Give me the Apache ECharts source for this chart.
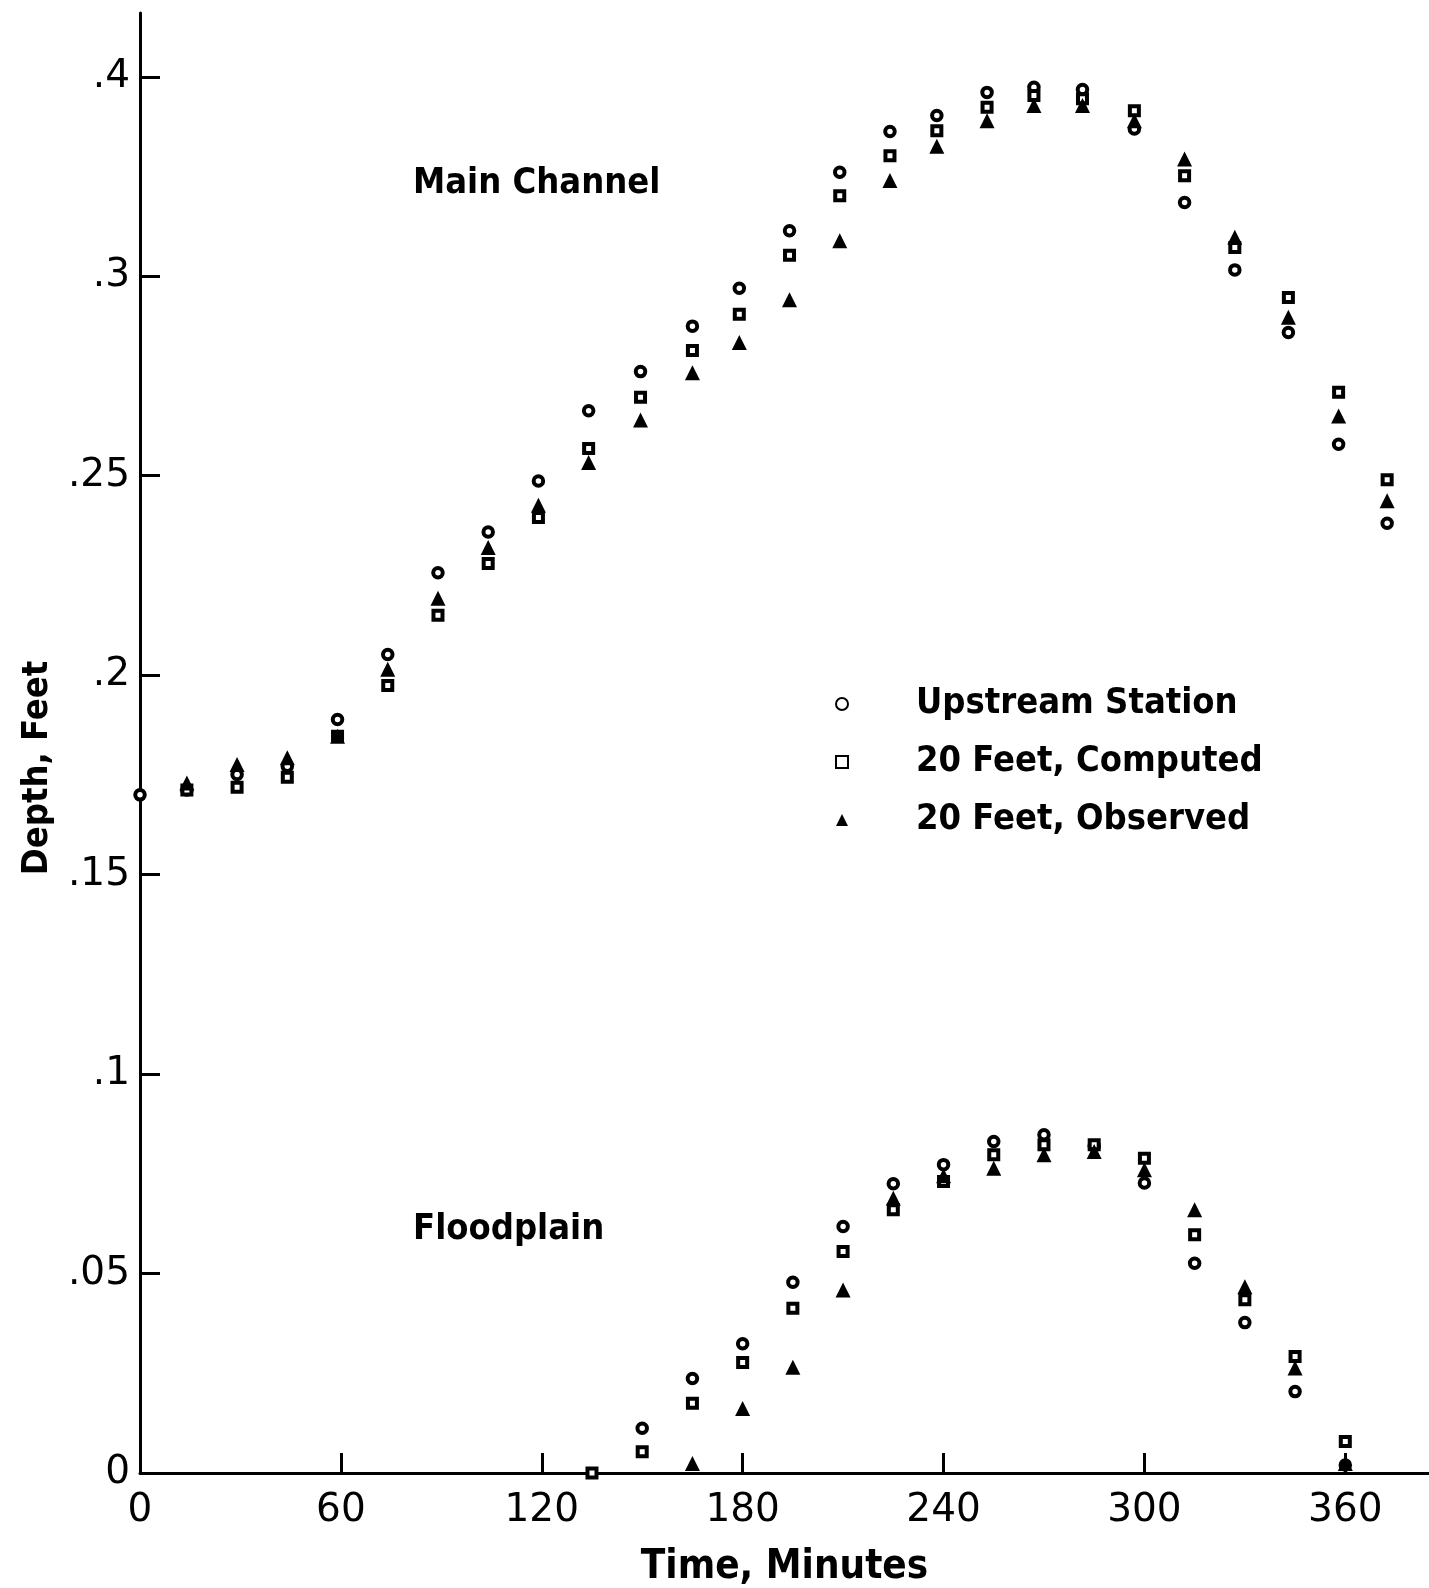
<!DOCTYPE html>
<html>
<head>
<meta charset="utf-8">
<title>Depth vs Time</title>
<script src="https://cdn.jsdelivr.net/npm/echarts@6/dist/echarts.min.js"></script>
<style>
    html, body { margin: 0; padding: 0; background: #fff; }
    #chart { width: 1429px; height: 1588px; }
</style>
</head>
<body>
<div id="chart"></div>
<script>
// main channel readings (minutes, feet)
let mainTimes = [0, 14, 29, 44, 59, 74, 89, 104, 119, 134, 149.5, 165, 179, 194, 209, 224, 238, 253, 267, 281.5, 297, 312, 327, 343, 358, 372.5];
let mainUpstream = [0.170, 0.1712, 0.1751, 0.1772, 0.1889, 0.2052, 0.2257, 0.2359, 0.2487, 0.2663, 0.2761, 0.2875, 0.2970, 0.3114, 0.3261, 0.3363, 0.3403, 0.3461, 0.3474, 0.3468, 0.3369, 0.3185, 0.3016, 0.2859, 0.2579, 0.2381];
let mainComputed = [null, 0.1712, 0.1719, 0.1744, 0.1847, 0.1974, 0.2150, 0.2280, 0.2395, 0.2568, 0.2697, 0.2814, 0.2905, 0.3053, 0.3202, 0.3302, 0.3365, 0.3424, 0.3453, 0.3445, 0.3415, 0.3252, 0.3072, 0.2947, 0.2709, 0.2490];
let mainObserved = [null, 0.1730, 0.1776, 0.1793, 0.1847, 0.2015, 0.2193, 0.2320, 0.2426, 0.2533, 0.2640, 0.2758, 0.2834, 0.2941, 0.3089, 0.3240, 0.3326, 0.3390, 0.3428, 0.3428, 0.3390, 0.3294, 0.3098, 0.2897, 0.2650, 0.2437];

// floodplain readings
let floodTimes = [135, 150, 165, 180, 195, 210, 225, 240, 255, 270, 285, 300, 315, 330, 345, 360];
let floodUpstream = [null, 0.0112, 0.0237, 0.0324, 0.0478, 0.0618, 0.0725, 0.0773, 0.0831, 0.0848, 0.0820, 0.0727, 0.0526, 0.0377, 0.0204, 0.0020];
let floodComputed = [0.0, 0.0053, 0.0175, 0.0277, 0.0413, 0.0555, 0.0660, 0.0731, 0.0798, 0.0823, 0.0823, 0.0789, 0.0597, 0.0434, 0.0292, 0.0079];
let floodObserved = [null, null, 0.0024, 0.0162, 0.0265, 0.0459, 0.0689, 0.0745, 0.0764, 0.0798, 0.0806, 0.0760, 0.0660, 0.0467, 0.0263, 0.0024];

// axis ticks
let xTickValues = [0, 60, 120, 180, 240, 300, 360];
let yTickValues = [0, 0.05, 0.1, 0.15, 0.2, 0.25, 0.3, 0.35];
let yTickLabels = ['0', '.05', '.1', '.15', '.2', '.25', '.3', '.4'];

let seriesNames = ['Upstream Station', '20 Feet, Computed', '20 Feet, Observed'];

const FONT = "'DejaVu Sans Condensed', 'Liberation Sans Narrow', 'DejaVu Sans', sans-serif";
const TICKFONT = "'DejaVu Sans', sans-serif";

let toPairs = (times, vals) => {
    let out = [];
    for (let i = 0; i < times.length; i++) {
        if (vals[i] != null) out.push([times[i], vals[i]]);
    }
    return out;
};

let circleStyle = { color: '#fff', borderColor: '#000', borderWidth: 4, opacity: 1 };
let squareStyle = { color: '#fff', borderColor: '#000', borderWidth: 4, opacity: 1 };
let triStyle = { color: '#000', opacity: 1 };

let makeSeries = (name, data, symbol, size, style) => ({
    name: name,
    type: 'scatter',
    data: data,
    symbol: symbol,
    symbolSize: size,
    itemStyle: style,
    emphasis: { disabled: true }
});

let myChart = echarts.init(document.getElementById('chart'));
let option = {
    animation: false,
    backgroundColor: '#fff',
    grid: { left: 140, right: 0, top: 13, bottom: 115, outerBoundsMode: 'none' },
    xAxis: {
        type: 'value',
        min: 0,
        max: 385,
        name: 'Time, Minutes',
        nameLocation: 'middle',
        nameGap: 75,
        nameTextStyle: { fontFamily: FONT, fontSize: 40, color: '#000', fontWeight: 'bold' },
        axisLine: { show: true, lineStyle: { color: '#000', width: 3 } },
        axisTick: { show: true, inside: true, length: 20, lineStyle: { color: '#000', width: 3 }, customValues: xTickValues },
        axisLabel: { customValues: xTickValues, fontFamily: TICKFONT, fontSize: 39, color: '#000', margin: 18 },
        splitLine: { show: false }
    },
    yAxis: {
        type: 'value',
        min: 0,
        max: 0.366,
        name: 'Depth, Feet',
        nameLocation: 'middle',
        nameRotate: 90,
        nameGap: 84,
        nameTextStyle: { fontFamily: FONT, fontSize: 36, color: '#000', fontWeight: 'bold', padding: [0, 50, 0, 0] },
        axisLine: { show: true, lineStyle: { color: '#000', width: 3 } },
        axisTick: { show: true, inside: true, length: 20, lineStyle: { color: '#000', width: 3 }, customValues: yTickValues },
        axisLabel: {
            customValues: yTickValues,
            fontFamily: TICKFONT, fontSize: 39, color: '#000', margin: 10,
            formatter: function (v) {
                return yTickLabels[Math.round(v / 0.05)];
            }
        },
        splitLine: { show: false }
    },
    legend: {
        data: seriesNames,
        orient: 'vertical',
        left: 830,
        top: 679,
        itemWidth: 12,
        itemHeight: 12,
        itemGap: 18,
        selectedMode: false,
        textStyle: { fontFamily: FONT, fontSize: 36, color: '#000', fontWeight: 'bold', lineHeight: 40, padding: [0, 0, 0, 63] }
    },
    graphic: [
        { type: 'text', left: 413, top: 166, style: { text: 'Main Channel', font: 'bold 36px ' + FONT, fill: '#000' } },
        { type: 'text', left: 413, top: 1212, style: { text: 'Floodplain', font: 'bold 36px ' + FONT, fill: '#000' } }
    ],
    series: [
        makeSeries(seriesNames[0], toPairs(mainTimes, mainUpstream), 'circle', 9.5, circleStyle),
        makeSeries(seriesNames[1], toPairs(mainTimes, mainComputed), 'rect', 9, squareStyle),
        makeSeries(seriesNames[2], toPairs(mainTimes, mainObserved), 'triangle', 15, triStyle),
        makeSeries(seriesNames[0], toPairs(floodTimes, floodUpstream), 'circle', 9.5, circleStyle),
        makeSeries(seriesNames[1], toPairs(floodTimes, floodComputed), 'rect', 9, squareStyle),
        makeSeries(seriesNames[2], toPairs(floodTimes, floodObserved), 'triangle', 15, triStyle)
    ]
};
myChart.setOption(option);
</script>
</body>
</html>
